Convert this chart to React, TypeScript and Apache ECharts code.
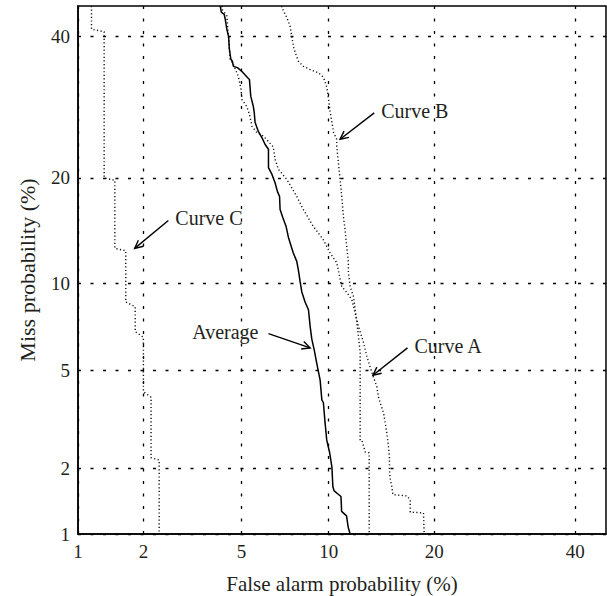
import React, { useEffect, useRef } from "react";
import * as echarts from "echarts";

// ---------- data (percent values) ----------
const tickPercents = [1, 2, 5, 10, 20, 40];
const tickLabels = ["1", "2", "5", "10", "20", "40"];
const axisMinPercent = 1;
const axisMaxPercent = 45;

const averageFA = [4.15, 4.19, 4.3, 4.34, 4.4, 4.47, 4.5, 4.56, 4.62, 4.66, 4.83, 5.02, 5.23, 5.35, 5.41, 5.53, 5.57, 5.61, 5.77, 5.94, 6.1, 6.27, 6.27, 6.45, 6.62, 6.75, 6.86, 6.89, 7.04, 7.23, 7.36, 7.5, 7.65, 7.86, 7.96, 8.07, 8.17, 8.38, 8.6, 8.71, 8.82, 8.98, 9.16, 9.39, 9.51, 9.62, 9.74, 9.86, 10.06, 10.24, 10.31, 10.41, 10.93, 10.98, 11.37, 11.5, 11.66];
const averageMiss = [45, 44.0, 43.6, 42.8, 41.2, 40.0, 38.0, 36.4, 36.1, 35.3, 35.1, 34.5, 33.7, 33.3, 30.8, 29.3, 28.5, 27.1, 25.8, 25.0, 24.1, 23.5, 21.2, 20.4, 19.4, 18.4, 17.9, 16.5, 15.7, 14.8, 13.8, 13.1, 12.4, 11.7, 11.0, 10.1, 9.4, 8.7, 8.2, 7.2, 6.5, 5.96, 5.3, 4.6, 3.86, 3.76, 3.12, 2.65, 2.36, 2.03, 1.66, 1.59, 1.5, 1.28, 1.22, 1.08, 1.0];

const curveAFA = [4.21, 4.21, 4.4, 4.53, 4.66, 4.87, 4.98, 5.02, 5.23, 5.35, 5.47, 5.69, 6.02, 6.52, 6.62, 6.8, 7.27, 7.86, 8.27, 8.93, 9.6, 10.11, 10.6, 10.99, 11.39, 11.8, 12.36, 12.79, 13.09, 13.38, 13.68, 13.99, 14.14, 14.3, 14.62, 14.78, 14.94, 15.1, 15.19, 15.19, 15.26, 15.43, 15.53, 16.96, 17.32, 17.32, 18.77, 18.85];
const curveAMiss = [45, 44.5, 43.4, 36.4, 35.6, 33.7, 31.8, 30.3, 29.3, 28.2, 26.5, 25.7, 25.2, 23.8, 22.2, 21.0, 19.8, 17.9, 16.5, 14.8, 13.6, 12.4, 11.6, 9.77, 9.35, 8.86, 7.18, 6.32, 5.62, 5.15, 4.72, 4.34, 3.96, 3.76, 3.43, 3.12, 2.83, 2.48, 2.25, 1.97, 1.81, 1.66, 1.53, 1.51, 1.45, 1.27, 1.26, 1.0];

const curveBFA = [6.98, 6.98, 7.27, 7.46, 7.56, 7.66, 7.76, 7.96, 8.27, 8.71, 9.28, 9.63, 9.87, 9.99, 10.11, 10.24, 10.36, 10.6, 10.6, 10.73, 10.86, 10.99, 11.12, 11.25, 11.39, 11.52, 11.52, 11.66, 11.94, 12.08, 12.22, 12.36, 12.5, 12.5, 12.64, 12.94, 13.29, 13.29];
const curveBMiss = [45, 44.8, 43.1, 41.7, 40.0, 38.4, 37.5, 36.1, 35.3, 34.8, 34.3, 33.6, 32.1, 30.3, 28.5, 27.1, 25.7, 24.8, 23.9, 21.8, 19.8, 17.9, 15.8, 14.5, 12.9, 11.6, 10.8, 9.77, 9.06, 8.21, 7.42, 6.63, 5.81, 2.65, 2.65, 2.36, 2.34, 1.0];

const curveCFA = [1.16, 1.16, 1.33, 1.33, 1.49, 1.49, 1.67, 1.67, 1.84, 1.84, 2.0, 2.0, 2.16, 2.16, 2.34, 2.34];
const curveCMiss = [45, 41.2, 40.8, 20.0, 19.7, 12.8, 12.6, 8.7, 8.4, 6.9, 6.6, 4.15, 3.95, 2.23, 2.18, 1.0];

const annotationLabels = ["Curve A", "Curve B", "Curve C", "Average"];
const annotationTipFA = [13.63, 10.86, 1.83, 8.71];
const annotationTipMiss = [4.8, 24.8, 12.8, 6.05];
const annotationTailFA = [17.03, 13.75, 2.56, 6.27];
const annotationTailMiss = [6.05, 28.4, 15.4, 6.8];

// ---------- probit (inverse normal CDF) ----------
function probit(p: number): number {
  const a = [-3.969683028665376e1, 2.209460984245205e2, -2.759285104469687e2, 1.38357751867269e2, -3.066479806614716e1, 2.506628277459239];
  const b = [-5.447609879822406e1, 1.615858368580409e2, -1.556989798598866e2, 6.680131188771972e1, -1.328068155288572e1];
  const c = [-7.784894002430293e-3, -3.223964580411365e-1, -2.400758277161838, -2.549732539343734, 4.374664141464968, 2.938163982698783];
  const d = [7.784695709041462e-3, 3.224671290700398e-1, 2.445134137142996, 3.754408661907416];
  const pLow = 0.02425;
  const pHigh = 1 - pLow;
  if (p < pLow) {
    const q = Math.sqrt(-2 * Math.log(p));
    return (((((c[0] * q + c[1]) * q + c[2]) * q + c[3]) * q + c[4]) * q + c[5]) /
      ((((d[0] * q + d[1]) * q + d[2]) * q + d[3]) * q + 1);
  } else if (p <= pHigh) {
    const q = p - 0.5;
    const r = q * q;
    return ((((((a[0] * r + a[1]) * r + a[2]) * r + a[3]) * r + a[4]) * r + a[5]) * q) /
      (((((b[0] * r + b[1]) * r + b[2]) * r + b[3]) * r + b[4]) * r + 1);
  }
  const q = Math.sqrt(-2 * Math.log(1 - p));
  return -(((((c[0] * q + c[1]) * q + c[2]) * q + c[3]) * q + c[4]) * q + c[5]) /
    ((((d[0] * q + d[1]) * q + d[2]) * q + d[3]) * q + 1);
}

const z = (pct: number) => probit(pct / 100);
const toPoints = (fa: number[], miss: number[]) => fa.map((f, i) => [z(f), z(miss[i])]);

const FONT = '"Liberation Serif", "DejaVu Serif", serif';
const TEXT_COLOR = "#231f20";

export default function App() {
  const ref = useRef<HTMLDivElement>(null);

  useEffect(() => {
    if (!ref.current) return;
    const chart = echarts.init(ref.current, undefined, { renderer: "svg" });
    const tickZ = tickPercents.map(z);
    const fmt = (v: number) => {
      const i = tickZ.findIndex((t) => Math.abs(t - v) < 1e-6);
      return i >= 0 ? tickLabels[i] : "";
    };
    const gridLine = { show: true, lineStyle: { color: "#000", width: 1.3, type: [3, 9.5] as any } };
    const dotted = { color: "#111", width: 1.4, type: [1.2, 2.4] as any };

    const axisCommon = (name: string, nameGap: number, nameSize: number) => ({
      type: "value" as const,
      min: z(axisMinPercent),
      max: z(axisMaxPercent),
      axisLine: { show: true, lineStyle: { color: "#000", width: 1.5 } },
      axisTick: { show: false, customValues: tickZ },
      axisLabel: {
        customValues: tickZ,
        formatter: fmt,
        fontFamily: FONT,
        fontSize: 19,
        color: TEXT_COLOR,
        margin: 8,
      },
      splitLine: gridLine,
      name,
      nameLocation: "middle" as const,
      nameGap,
      nameTextStyle: { fontFamily: FONT, fontSize: nameSize, color: TEXT_COLOR },
    });

    chart.setOption({
      animation: false,
      grid: {
        left: 78,
        right: 1,
        top: 6,
        bottom: 62,
        show: true,
        borderColor: "#000",
        borderWidth: 1.5,
        outerBoundsMode: "none",
      },
      xAxis: axisCommon("False alarm probability (%)", 39, 21),
      yAxis: axisCommon("Miss probability (%)", 40, 22),
      series: [
        { type: "line", name: "Curve A", data: toPoints(curveAFA, curveAMiss), showSymbol: false, lineStyle: dotted, z: 3 },
        { type: "line", name: "Curve B", data: toPoints(curveBFA, curveBMiss), showSymbol: false, lineStyle: dotted, z: 3 },
        { type: "line", name: "Curve C", data: toPoints(curveCFA, curveCMiss), showSymbol: false, lineStyle: dotted, z: 3 },
        { type: "line", name: "Average", data: toPoints(averageFA, averageMiss), showSymbol: false, lineStyle: { color: "#000", width: 1.5 }, z: 4 },
      ],
    });

    // annotations (arrows + labels) positioned through the chart's own coordinate system
    const graphics: any[] = [];
    annotationLabels.forEach((label, i) => {
      const tip = chart.convertToPixel({ gridIndex: 0 }, [z(annotationTipFA[i]), z(annotationTipMiss[i])]) as number[];
      const tail = chart.convertToPixel({ gridIndex: 0 }, [z(annotationTailFA[i]), z(annotationTailMiss[i])]) as number[];
      const dx = tip[0] - tail[0];
      const dy = tip[1] - tail[1];
      const len = Math.hypot(dx, dy);
      const ux = dx / len;
      const uy = dy / len;
      const hl = 9;
      const ang = (26 * Math.PI) / 180;
      const rot = (s: number) => [
        tip[0] - hl * (ux * Math.cos(s * ang) - uy * Math.sin(s * ang)),
        tip[1] - hl * (ux * Math.sin(s * ang) + uy * Math.cos(s * ang)),
      ];
      graphics.push({
        type: "line",
        shape: { x1: tail[0], y1: tail[1], x2: tip[0], y2: tip[1] },
        style: { stroke: "#000", lineWidth: 1.4 },
        z: 10,
      });
      graphics.push({
        type: "polyline",
        shape: { points: [rot(1), tip, rot(-1)] },
        style: { stroke: "#000", lineWidth: 1.4, fill: "none" },
        z: 10,
      });
      const leftSide = dx > 0; // arrow points right -> label on the left of the tail
      graphics.push({
        type: "text",
        x: leftSide ? tail[0] - 10 : tail[0] + 7,
        y: tail[1] - 2,
        style: {
          text: label,
          font: `20px ${FONT}`,
          fill: TEXT_COLOR,
          align: leftSide ? "right" : "left",
          verticalAlign: "middle",
        },
        z: 10,
      });
    });
    chart.setOption({ graphic: graphics });

    return () => chart.dispose();
  }, []);

  return (
    <div
      ref={ref}
      style={{ position: "absolute", left: 0, top: 0, width: 607, height: 596, background: "#fff" }}
    />
  );
}
